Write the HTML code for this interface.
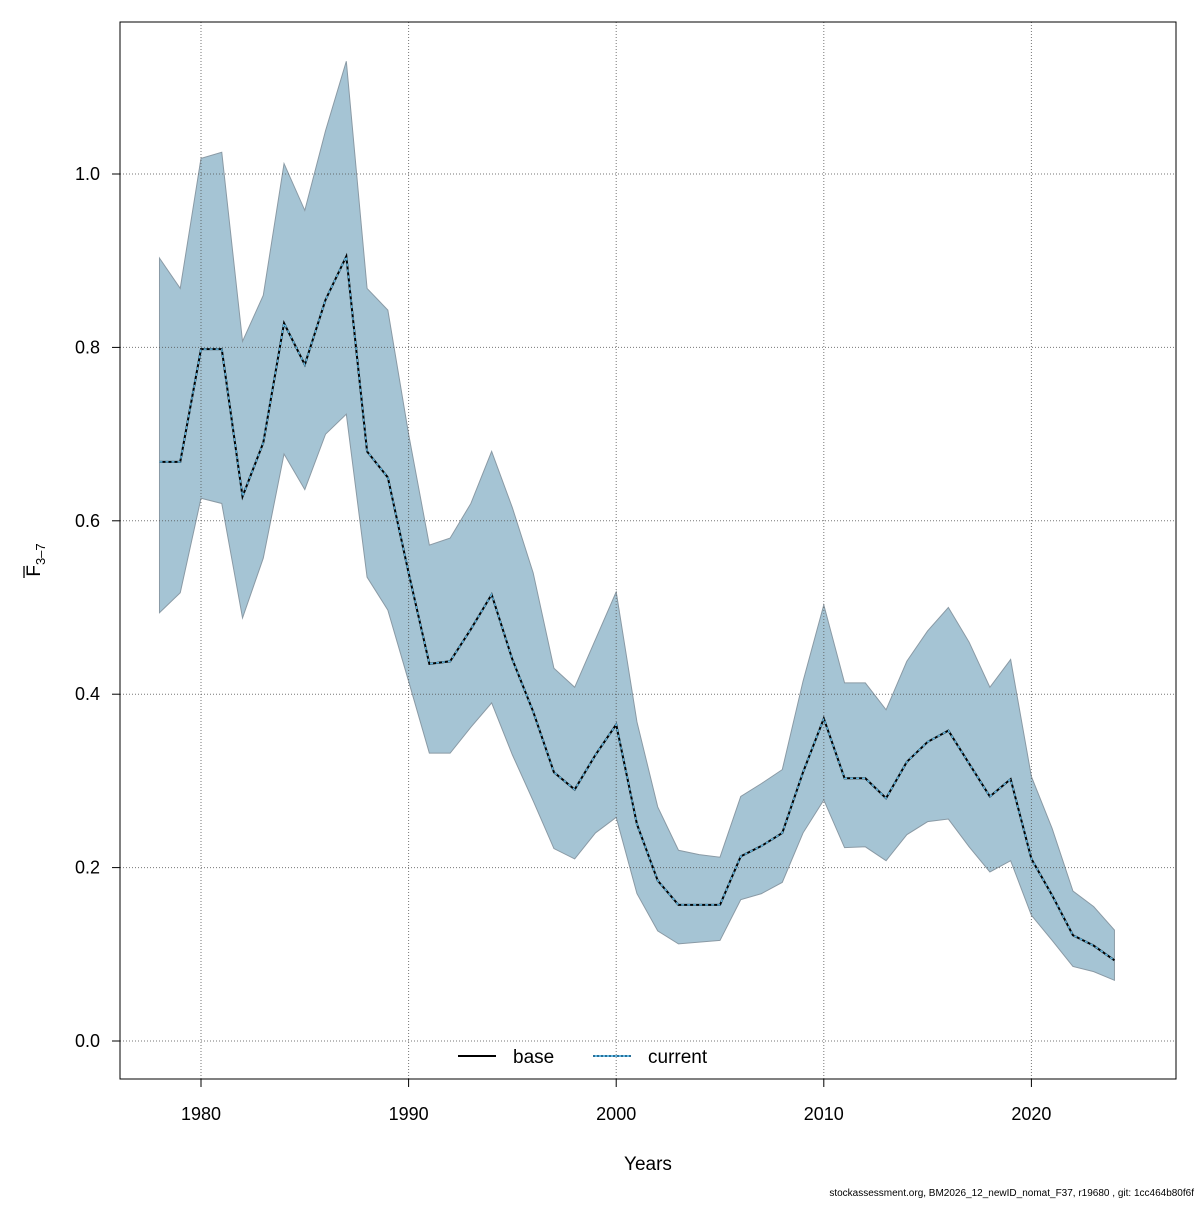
<!DOCTYPE html>
<html><head><meta charset="utf-8"><style>
body{margin:0;background:#fff;}
svg text{font-family:"Liberation Sans",Arial,sans-serif;}
</style></head><body>
<svg id="chart" width="1200" height="1200" xmlns="http://www.w3.org/2000/svg">
<rect width="1200" height="1200" fill="#fff"/>
<g id="marks"></g>
<g id="grid"></g>
<g id="lines"></g>
<rect x="120" y="22" width="1056" height="1057" fill="none" stroke="#000" stroke-width="1"/>
<g id="axes"></g>
<text x="648" y="1170" font-size="19" text-anchor="middle">Years</text>
<g transform="translate(40,560) rotate(-90)">
<text x="0" y="0" font-size="19" text-anchor="middle">F<tspan font-size="13" dy="5">3–7</tspan></text>
<line x1="-18" y1="-16" x2="-6" y2="-16" stroke="#000" stroke-width="1.3"/>
</g>
<g>
<line x1="458" y1="1056" x2="496" y2="1056" stroke="#000" stroke-width="2"/>
<text x="513" y="1063" font-size="19">base</text>
<line x1="593" y1="1056" x2="631" y2="1056" stroke="#2a6f97" stroke-width="2" stroke-dasharray="2,2"/>
<line x1="595" y1="1056" x2="631" y2="1056" stroke="#62b8e2" stroke-width="2" stroke-dasharray="2,2"/>
<text x="648" y="1063" font-size="19">current</text>
</g>
<text x="1194" y="1196" font-size="10" text-anchor="end">stockassessment.org, BM2026_12_newID_nomat_F37, r19680 , git: 1cc464b80f6f</text>
</svg>
<script>
const years=[];for(let y=1978;y<=2024;y++)years.push(y);
const meanF=[.668,.668,.798,.798,.628,.69,.828,.78,.855,.905,.68,.65,.54,.435,.438,.475,.515,.44,.38,.31,.29,.33,.365,.25,.185,.157,.157,.157,.213,.225,.24,.31,.372,.303,.303,.28,.322,.345,.358,.32,.282,.302,.21,.168,.122,.11,.093];
const upperF=[.903,.868,1.018,1.025,.807,.86,1.012,.958,1.05,1.13,.868,.843,.7,.572,.58,.62,.68,.615,.54,.43,.408,.463,.518,.368,.27,.22,.215,.212,.282,.297,.313,.415,.503,.413,.413,.382,.438,.473,.5,.46,.408,.44,.305,.245,.173,.155,.128];
const lowerF=[.494,.517,.626,.62,.488,.557,.677,.636,.7,.723,.535,.497,.415,.332,.332,.362,.39,.33,.277,.222,.21,.24,.258,.17,.127,.112,.114,.116,.163,.17,.183,.24,.278,.223,.224,.208,.238,.253,.256,.224,.195,.208,.145,.116,.086,.08,.07];
const xTicks=[1980,1990,2000,2010,2020];
const yTicks=[0,0.2,0.4,0.6,0.8,1.0];
const X=y=>201+(y-1980)*20.76;
const Y=v=>1041-v*867;
const NS="http://www.w3.org/2000/svg";
function mk(tag,attrs,parent){const e=document.createElementNS(NS,tag);for(const k in attrs)e.setAttribute(k,attrs[k]);parent.appendChild(e);return e;}
const grid=document.getElementById('grid'),axes=document.getElementById('axes'),marks=document.getElementById('marks'),lines=document.getElementById('lines');
xTicks.forEach(t=>{
 const l=mk('line',{x1:X(t),x2:X(t),y1:22,y2:1079,stroke:'#555','stroke-dasharray':'1,2','stroke-width':1,opacity:0.8},grid);
 
 
 const tk=mk('line',{x1:X(t),x2:X(t),y1:1079,y2:1087,stroke:'#000'},axes);
 
 
 const tx=mk('text',{x:X(t),y:1120,'font-size':18,'text-anchor':'middle'},axes);tx.textContent=t;
 
 
});
yTicks.forEach(t=>{
 const l=mk('line',{x1:120,x2:1176,y1:Y(t),y2:Y(t),stroke:'#555','stroke-dasharray':'1,2','stroke-width':1,opacity:0.8},grid);
 
 
 const tk=mk('line',{x1:112,x2:120,y1:Y(t),y2:Y(t),stroke:'#000'},axes);
 
 
 const tx=mk('text',{x:100,y:Y(t)+6,'font-size':18,'text-anchor':'end'},axes);tx.textContent=t.toFixed(1);
 
 
});
let d='';years.forEach((y,i)=>{d+=(i?'L':'M')+X(y)+','+Y(upperF[i]);});
for(let i=years.length-1;i>=0;i--)d+='L'+X(years[i])+','+Y(lowerF[i]);
d+='Z';
const band=mk('path',{d:d,fill:'#a5c4d4',stroke:'#8a9aa5','stroke-width':1},marks);


const pts=years.map((y,i)=>X(y)+','+Y(meanF[i])).join(' ');
const base=mk('polyline',{points:pts,fill:'none',stroke:'#000','stroke-width':2},lines);


const cur=mk('polyline',{points:pts,fill:'none',stroke:'#62b8e2','stroke-width':1.5,'stroke-dasharray':'3,3'},lines);


</script>
</body></html>
